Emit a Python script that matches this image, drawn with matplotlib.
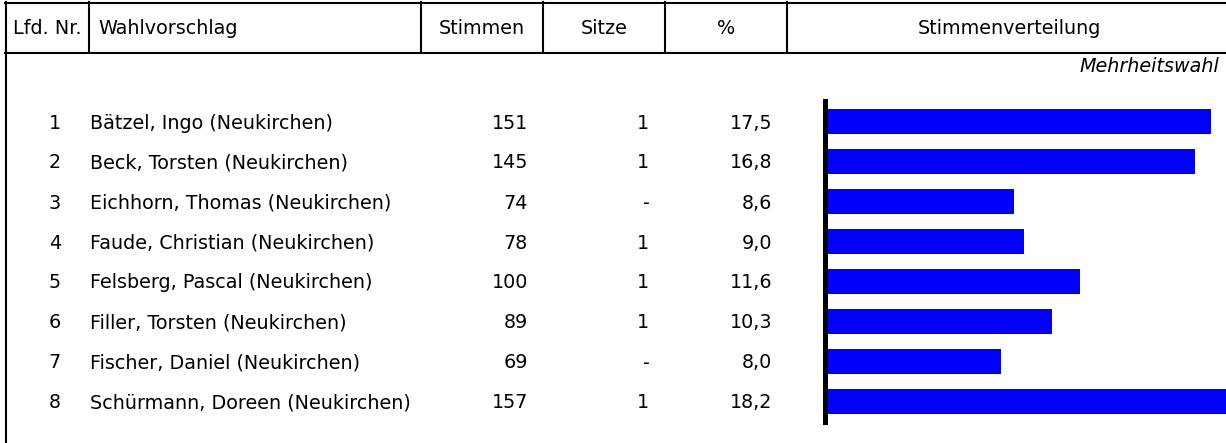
import matplotlib
matplotlib.use("Agg")
import matplotlib.pyplot as plt

# data
nummern = ["1", "2", "3", "4", "5", "6", "7", "8"]
namen = ["Bätzel, Ingo (Neukirchen)", "Beck, Torsten (Neukirchen)",
         "Eichhorn, Thomas (Neukirchen)", "Faude, Christian (Neukirchen)",
         "Felsberg, Pascal (Neukirchen)", "Filler, Torsten (Neukirchen)",
         "Fischer, Daniel (Neukirchen)", "Schürmann, Doreen (Neukirchen)"]
stimmen = [151, 145, 74, 78, 100, 89, 69, 157]
sitze = ["1", "1", "-", "1", "1", "1", "-", "1"]
prozent = ["17,5", "16,8", "8,6", "9,0", "11,6", "10,3", "8,0", "18,2"]
kopf = ["Lfd. Nr.", "Wahlvorschlag", "Stimmen", "Sitze", "%", "Stimmenverteilung"]

W, H = 1226, 443
fs = 13.8
fig = plt.figure(figsize=(W / 100, H / 100), dpi=100)

# table frame in pixel coordinates
ax = fig.add_axes([0, 0, 1, 1])
ax.set_xlim(0, W)
ax.set_ylim(H, 0)
ax.axis("off")

lw = 1.5
ax.plot([5, W], [2.5, 2.5], color="black", lw=lw)
ax.plot([5, W], [52.5, 52.5], color="black", lw=lw)
ax.plot([6, 6], [2, H], color="black", lw=lw)
for x in [89, 421, 543, 665, 787]:
    ax.plot([x, x], [2, 52.5], color="black", lw=lw)

# header
ax.text(47.5, 28, kopf[0], ha="center", va="center", fontsize=fs)
ax.text(98, 28, kopf[1], ha="left", va="center", fontsize=fs)
ax.text(482, 28, kopf[2], ha="center", va="center", fontsize=fs)
ax.text(604, 28, kopf[3], ha="center", va="center", fontsize=fs)
ax.text(726, 28, kopf[4], ha="center", va="center", fontsize=fs)
ax.text(1009, 28, kopf[5], ha="center", va="center", fontsize=fs)
ax.text(1219, 66, "Mehrheitswahl", ha="right", va="center", fontsize=fs, style="italic")

# rows
for i in range(len(namen)):
    y = 123 + 40 * i
    ax.text(61, y, nummern[i], ha="right", va="center", fontsize=fs)
    ax.text(90, y, namen[i], ha="left", va="center", fontsize=fs)
    ax.text(528, y, str(stimmen[i]), ha="right", va="center", fontsize=fs)
    ax.text(649, y, sitze[i], ha="right", va="center", fontsize=fs)
    ax.text(772, y, prozent[i], ha="right", va="center", fontsize=fs)

# bar chart
top, bottom = 101, 422
left, right = 824.5, W
bx = fig.add_axes([left / W, (H - bottom) / H, (right - left) / W, (bottom - top) / H])
bx.barh(range(len(stimmen)), stimmen, height=0.625, color="#0000ff")
bx.set_xlim(0, max(stimmen))
bx.set_ylim(len(stimmen) - 0.4875, -0.5125)
for s in ["top", "right", "bottom"]:
    bx.spines[s].set_visible(False)
bx.spines["left"].set_linewidth(3.6)
bx.spines["left"].set_zorder(5)
bx.set_xticks([])
bx.set_yticks([])
bx.patch.set_alpha(0)

fig.savefig("out.png", dpi=100)
